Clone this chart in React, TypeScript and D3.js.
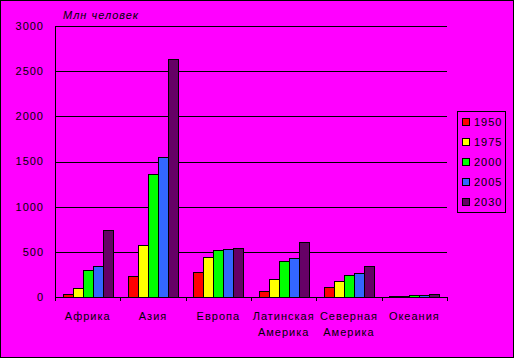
import React from "react";
import * as d3 from "d3";

const categories = [["Африка"], ["Азия"], ["Европа"], ["Латинская", "Америка"], ["Северная", "Америка"], ["Океания"]];
const years = ["1950", "1975", "2000", "2005", "2030"];
const colors = ["#FF0000", "#FFFF00", "#00FF00", "#3366FF", "#660066"];
const values = [
  [33, 100, 300, 342, 745],
  [232, 575, 1360, 1548, 2631],
  [276, 442, 520, 531, 542],
  [66, 199, 398, 431, 608],
  [110, 177, 243, 265, 343],
  [12, 16, 25, 27, 38],
];
const yTicks = [0, 500, 1000, 1500, 2000, 2500, 3000];

const W = 514, H = 358;
const left = 55, right = 447, top = 26, bottom = 297;

export default function App() {
  const x = d3.scaleBand<number>().domain(d3.range(categories.length)).range([left, right]).paddingInner(0).paddingOuter(0);
  const y = d3.scaleLinear().domain([0, 3000]).range([bottom, top]);
  const bw = 10;
  const font = "'Liberation Sans', Arial, sans-serif";
  return (
    <svg width={W} height={H} style={{ position: "absolute", left: 0, top: 0 }}>
      <rect x={0.5} y={0.5} width={W - 1} height={H - 1} fill="#FF00FF" stroke="#000" />
      {yTicks.map((t) => (
        <g key={t}>
          {t > 0 && <line x1={left} x2={right} y1={Math.round(y(t)) + 0.5} y2={Math.round(y(t)) + 0.5} stroke="#000" />}
          <text x={44} y={y(t)} dy="0.35em" textAnchor="end" fontFamily={font} fontSize={11} letterSpacing={1} fill="#000">{t}</text>
        </g>
      ))}
      {values.map((row, ci) => {
        const x0 = (x(ci) as number) + (x.bandwidth() - bw * years.length) / 2;
        return row.map((v, si) => (
          <rect key={ci + "-" + si} x={Math.round(x0 + si * bw) + 0.5} y={Math.round(y(v)) + 0.5} width={bw} height={Math.max(0, Math.round(bottom - y(v)))} fill={colors[si]} stroke="#000" />
        ));
      })}
      <line x1={left + 0.5} x2={left + 0.5} y1={top} y2={bottom + 1} stroke="#000" />
      <line x1={left} x2={right} y1={bottom + 0.5} y2={bottom + 0.5} stroke="#000" />
      {d3.range(categories.length + 1).map((i) => {
        const xx = i < categories.length ? (x(i) as number) : right;
        return <line key={i} x1={Math.round(xx) + 0.5} x2={Math.round(xx) + 0.5} y1={bottom} y2={bottom + 4} stroke="#000" />;
      })}
      {categories.map((lines, ci) => (
        <text key={ci} textAnchor="middle" fontFamily={font} fontSize={11} letterSpacing={1} fill="#000">
          {lines.map((l, li) => (
            <tspan key={li} x={(x(ci) as number) + x.bandwidth() / 2} y={320 + li * 16}>{l}</tspan>
          ))}
        </text>
      ))}
      <text x={63} y={19} fontFamily={font} fontSize={11} fontStyle="italic" letterSpacing={1} fill="#000">Млн человек</text>
      <rect x={457.5} y={111.5} width={48} height={101} fill="#FF00FF" stroke="#000" />
      {years.map((yr, i) => (
        <g key={yr}>
          <rect x={462.5} y={118.5 + i * 20} width={7} height={7} fill={colors[i]} stroke="#000" />
          <text x={474} y={122 + i * 20} dy="0.35em" fontFamily={font} fontSize={11} letterSpacing={1} fill="#000">{yr}</text>
        </g>
      ))}
    </svg>
  );
}
